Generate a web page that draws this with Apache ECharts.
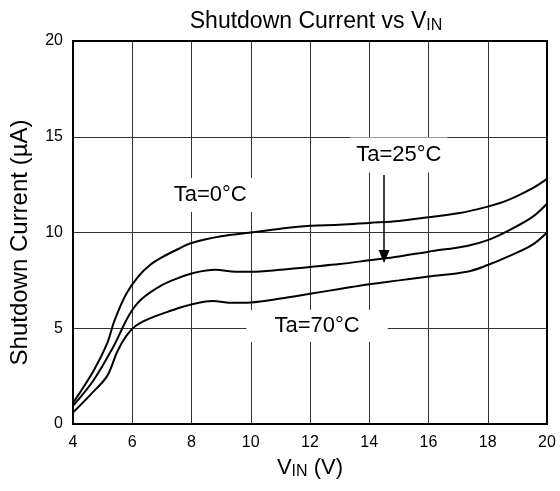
<!DOCTYPE html>
<html>
<head>
<meta charset="utf-8">
<script src="https://cdn.jsdelivr.net/npm/echarts@6/dist/echarts.min.js"></script>
<style>html,body{margin:0;padding:0;background:#fff}#c{width:560px;height:491px}</style>
</head>
<body>
<div id="c"></div>
<script>
var ta0 = [[4,1.1],[4.7,2.8],[5.15,4.2],[5.4,5.4],[5.8,6.8],[6.2,7.7],[6.6,8.3],[7,8.7],[7.5,9.1],[8,9.45],[9,9.8],[10,10.0],[11,10.2],[12,10.35],[13,10.4],[14,10.5],[15,10.6],[16,10.8],[17,11.0],[18,11.35],[18.7,11.7],[19.5,12.3],[20,12.8]];
var ta25 = [[4,0.95],[4.7,2.3],[5.35,4.0],[5.9,5.7],[6.3,6.5],[7,7.25],[7.6,7.65],[8.1,7.9],[8.8,8.05],[9.5,7.95],[10,7.95],[11,8.05],[12,8.2],[13,8.35],[14,8.55],[15,8.75],[16,9.0],[17.3,9.3],[18,9.6],[18.7,10.1],[19.5,10.8],[20,11.5]];
var ta70 = [[4,0.6],[4.6,1.55],[5.15,2.5],[5.5,3.8],[5.8,4.6],[6.1,5.1],[6.5,5.45],[7,5.75],[7.5,6.02],[8.1,6.28],[8.7,6.42],[9.4,6.33],[10,6.35],[11,6.55],[12,6.8],[13,7.05],[14,7.3],[15,7.5],[16,7.7],[17.3,7.95],[18,8.3],[18.7,8.75],[19.5,9.35],[20,10.0]];
var xTicks = [4,6,8,10,12,14,16,18,20];
var yTicks = [0,5,10,15,20];
var labelNames = ['Ta=0\u00B0C','Ta=25\u00B0C','Ta=70\u00B0C'];

var font = 'Liberation Sans, Arial, sans-serif';
var chart = echarts.init(document.getElementById('c'));
function line(name, data, extra) {
  var s = {name:name, type:'line', data:data, smooth:0.35, showSymbol:false, symbol:'none',
    lineStyle:{color:'#000', width:2}, silent:true, z:3};
  if (extra) for (var k in extra) s[k]=extra[k];
  return s;
}
var sub = {fontSize:16, fontFamily:font, color:'#000', verticalAlign:'bottom', padding:[8,0,0,0]};
function mp(text, coord, pad) {
  return {symbol:'rect', symbolSize:1, itemStyle:{color:'transparent'}, z:4,
    label:{show:true, position:'inside', formatter:text, fontSize:22, color:'#000', fontFamily:font, backgroundColor:'#fff', padding:pad},
    data:[{coord:coord}]};
}
chart.setOption({
  animation:false,
  title:{text:'Shutdown Current vs V{s|IN}', left:311, textAlign:'center', top:5,
    textStyle:{fontSize:23, fontWeight:'normal', color:'#000', fontFamily:font, rich:{s:sub}}},
  grid:{left:73, right:13, top:41, bottom:67, show:true, borderColor:'#000', borderWidth:2, z:5},
  xAxis:{type:'value', min:4, max:20, interval:2,
    axisLine:{show:false}, axisTick:{show:false},
    splitLine:{show:true, lineStyle:{color:'#333', width:1}},
    axisLabel:{fontSize:16, color:'#000', fontFamily:font, margin:11, formatter:function(v){return xTicks.indexOf(v)>=0?String(v):'';}},
    name:'V{s|IN} (V)', nameLocation:'middle', nameGap:32,
    nameTextStyle:{fontSize:22, color:'#000', fontFamily:font, rich:{s:sub}}},
  yAxis:{type:'value', min:0, max:20, interval:5,
    axisLine:{show:false}, axisTick:{show:false},
    splitLine:{show:true, lineStyle:{color:'#333', width:1}},
    axisLabel:{fontSize:16, color:'#000', fontFamily:font, margin:10, formatter:function(v){return yTicks.indexOf(v)>=0?String(v):'';}},
    name:'Shutdown Current (\u00B5A)', nameLocation:'middle', nameGap:41,
    nameTextStyle:{fontSize:24, color:'#000', fontFamily:font, padding:[0,20,0,0]}},
  series:[
    line('Ta=0', ta0, {markPoint:mp(labelNames[0], [8.63,11.96], [6,6,6,6])}),
    line('Ta=25', ta25, {markPoint:mp(labelNames[1], [15.0,14.05], [4,6,9,6]),
      markLine:{silent:true, symbol:['none','triangle'], symbolSize:[11,13], label:{show:false},
        lineStyle:{color:'#000', width:1.5, type:'solid'},
        data:[[{coord:[14.5,13.0]},{coord:[14.5,8.75]}]]}}),
    line('Ta=70', ta70, {markPoint:mp(labelNames[2], [12.24,5.12], [5,28,5,28])})
  ]
});
</script>
</body>
</html>
